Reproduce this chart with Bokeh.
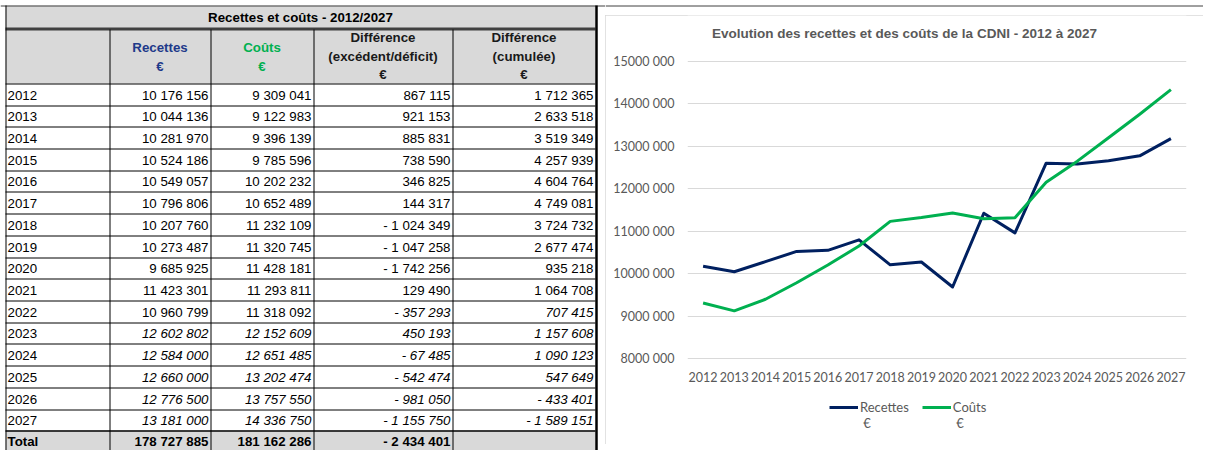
from bokeh.plotting import figure
from bokeh.models import (ColumnDataSource, Range1d, FactorRange, FixedTicker,
                          Legend, LegendItem)
from bokeh.layouts import row, column
from bokeh.core.properties import value
from bokeh.embed import file_html
from bokeh.resources import INLINE

# ---------------- data ----------------
years = [2012, 2013, 2014, 2015, 2016, 2017, 2018, 2019, 2020, 2021,
         2022, 2023, 2024, 2025, 2026, 2027]
recettes = [10176156, 10044136, 10281970, 10524186, 10549057, 10796806,
            10207760, 10273487, 9685925, 11423301, 10960799, 12602802,
            12584000, 12660000, 12776500, 13181000]
couts = [9309041, 9122983, 9396139, 9785596, 10202232, 10652489,
         11232109, 11320745, 11428181, 11293811, 11318092, 12152609,
         12651485, 13202474, 13757550, 14336750]
difference = [867115, 921153, 885831, 738590, 346825, 144317,
              -1024349, -1047258, -1742256, 129490, -357293, 450193,
              -67485, -542474, -981050, -1155750]
cumul = [1712365, 2633518, 3519349, 4257939, 4604764, 4749081,
         3724732, 2677474, 935218, 1064708, 707415, 1157608,
         1090123, 547649, -433401, -1589151]
totals = [178727885, 181162286, -2434401]

table_title = "Recettes et coûts - 2012/2027"
chart_title = "Evolution des recettes et des coûts de la CDNI - 2012 à 2027"
series_names = ["Recettes", "Coûts"]
unit = "€"
y_ticks = [8000000, 9000000, 10000000, 11000000, 12000000, 13000000,
           14000000, 15000000]
y_tick_labels = ["8000 000", "9000 000", "10000 000", "11000 000",
                 "12000 000", "13000 000", "14000 000", "15000 000"]

# ---------------- styles ----------------
NAVY = "#002060"
GREEN = "#00B050"
HEAD_BLUE = "#1F3A8A"
GRAYBG = "#D9D9D9"
TXT_GRAY = "#595959"
TOPLINE = "#404040"
TFONT = "Liberation Sans"
CFONT = "Lato"
TSIZE = "13.3px"
CSIZE = "12.5px"


def fr(v):
    s = f"{abs(v):,}".replace(",", " ")
    return ("- " + s) if v < 0 else s


def no_frame_align(fig):
    try:
        fig.frame_align = False
    except Exception:
        pass


# ---------------- table figure ----------------
TW, TH = 605, 450
pt = figure(width=TW, height=TH, x_range=Range1d(0, TW), y_range=Range1d(TH, 0),
            x_axis_type=None, y_axis_type=None, output_backend="svg",
            toolbar_location=None, min_border=0)
pt.outline_line_color = None
pt.title = None
no_frame_align(pt)

col_edges = [5, 109, 210, 313, 452, 595]
title_top, title_bot = 5, 28
head_top, head_bot = 28, 83
row_h = 21.7
n_rows = len(years) + 1
row_tops = [head_bot + int(round(i * row_h)) for i in range(n_rows)]

bg = ColumnDataSource(dict(
    left=[col_edges[0]] * 3, right=[col_edges[-1]] * 3,
    top=[title_top, head_top, row_tops[-1]],
    bottom=[title_bot, head_bot, TH]))
pt.quad(left="left", right="right", top="top", bottom="bottom", source=bg,
        fill_color=GRAYBG, line_color=None)

hx0, hx1, hy, hw, hc = [], [], [], [], []
hx0.append(0); hx1.append(TW); hy.append(title_top + 0.5); hw.append(1); hc.append(TOPLINE)
hx0.append(col_edges[0]); hx1.append(col_edges[-1]); hy.append(title_bot + 0.5); hw.append(3); hc.append("#404040")
for i, t in enumerate(row_tops):
    hx0.append(col_edges[0]); hx1.append(col_edges[-1]); hy.append(t + 0.5)
    hw.append(1.5 if i == n_rows - 1 else 1); hc.append("black")
pt.segment(x0="x0", y0="y", x1="x1", y1="y", line_width="w", line_color="c",
           source=ColumnDataSource(dict(x0=hx0, x1=hx1, y=hy, w=hw, c=hc)))

vx, vy0, vy1, vw = [], [], [], []
vx.append(col_edges[0] + 0.5); vy0.append(title_top); vy1.append(TH); vw.append(1)
for e in col_edges[1:-1]:
    vx.append(e + 0.5); vy0.append(head_top + 1); vy1.append(TH); vw.append(1)
vx.append(col_edges[-1] + 1); vy0.append(title_top); vy1.append(TH); vw.append(2.5)
pt.segment(x0="x", y0="y0", x1="x", y1="y1", line_width="w", line_color="black",
           source=ColumnDataSource(dict(x=vx, y0=vy0, y1=vy1, w=vw)))


def add_text(fig, xs, ys, texts, align, style, color="black", size=TSIZE, font=TFONT):
    if not texts:
        return
    src = ColumnDataSource(dict(x=xs, y=ys, text=texts))
    fig.text("x", "y", "text", source=src, text_align=align, text_baseline="middle",
             text_font_style=style, text_color=color, text_font_size=size,
             text_font=value(font))


add_text(pt, [(col_edges[0] + col_edges[-1]) / 2], [(title_top + title_bot) / 2 + 0.5],
         [table_title], "center", "bold")

c_centers = [(col_edges[i] + col_edges[i + 1]) / 2 for i in range(5)]
add_text(pt, [c_centers[1], c_centers[1]], [head_top + 19, head_top + 38],
         [series_names[0], unit], "center", "bold", color=HEAD_BLUE)
add_text(pt, [c_centers[2], c_centers[2]], [head_top + 19, head_top + 38],
         [series_names[1], unit], "center", "bold", color=GREEN)
add_text(pt, [c_centers[3]] * 3 + [c_centers[4]] * 3,
         [head_top + 9, head_top + 28, head_top + 46] * 2,
         ["Différence", "(excédent/déficit)", unit,
          "Différence", "(cumulée)", unit], "center", "bold", color="#1a1a1a")

groups = {"normal": ([], [], []), "italic": ([], [], []), "bold": ([], [], [])}
yrx, yry, yrt = [], [], []
for i, yr in enumerate(years):
    yc = (row_tops[i] + row_tops[i + 1]) / 2 + 0.5
    yrx.append(col_edges[0] + 2); yry.append(yc); yrt.append(str(yr))
    vals = [recettes[i], couts[i], difference[i], cumul[i]]
    for j, v in enumerate(vals):
        italic = yr >= 2023 or (yr == 2022 and j >= 2)
        g = groups["italic" if italic else "normal"]
        g[0].append(col_edges[j + 2] - 2); g[1].append(yc); g[2].append(fr(v))
add_text(pt, yrx, yry, yrt, "left", "normal")
yc = row_tops[-1] + row_h / 2 + 0.5
add_text(pt, [col_edges[0] + 2], [yc], ["Total"], "left", "bold")
for j, v in enumerate(totals):
    g = groups["bold"]
    g[0].append(col_edges[j + 2] - 2); g[1].append(yc); g[2].append(fr(v))
for style, (xs, ys, ts) in groups.items():
    add_text(pt, xs, ys, ts, "right", style)

# ---------------- strip above the chart (page top rule) ----------------
CW, CH = 598, 429
STRIP = 15
ps = figure(width=CW, height=STRIP, x_range=Range1d(0, CW), y_range=Range1d(STRIP, 0),
            x_axis_type=None, y_axis_type=None, output_backend="svg",
            toolbar_location=None, min_border=0)
ps.outline_line_color = None
ps.title = None
no_frame_align(ps)
ps.segment(x0=[0], y0=[title_top + 0.5], x1=[CW], y1=[title_top + 0.5],
           line_color=TOPLINE, line_width=1)

# ---------------- chart figure ----------------
# The frame covers the whole chart box vertically so that the title, the
# category labels and the legend live inside it; the value scale keeps
# 8M..15M on 297 px starting 46 px under the box top.
year_labels = [str(y) for y in years]
LEFT, RIGHT, BOT = 82, 17, 4
FRAME_W = CW - LEFT - RIGHT
FRAME_H = CH - BOT
VALUE_TOP, VALUE_H = 46, 297
PX = (y_ticks[-1] - y_ticks[0]) / VALUE_H
y_end = y_ticks[-1] + VALUE_TOP * PX
y_start = y_end - FRAME_H * PX
pc = figure(width=CW, height=CH, x_range=FactorRange(factors=year_labels),
            y_range=Range1d(y_start, y_end), output_backend="svg",
            toolbar_location=None, min_border_left=LEFT, min_border_right=RIGHT,
            min_border_top=0, min_border_bottom=BOT)
pc.title = None
pc.styles = {"outline": "1px solid #D9D9D9", "outline-offset": "-1px"}
pc.outline_line_color = None
pc.xgrid.visible = False
pc.xaxis.visible = False
pc.ygrid.grid_line_color = GRAYBG
pc.ygrid.grid_line_width = 1

src = ColumnDataSource(dict(year=year_labels, recettes=recettes, couts=couts))
r1 = pc.line("year", "recettes", source=src, line_color=NAVY, line_width=3,
             line_join="round")
r2 = pc.line("year", "couts", source=src, line_color=GREEN, line_width=3,
             line_join="round")

# category labels, 18 px under the lowest gridline
lab_y = y_ticks[0] - 18 * PX
pc.text(x=year_labels, y=[lab_y] * len(year_labels), text=year_labels,
        text_align="center", text_baseline="middle", text_color=TXT_GRAY,
        text_font=value(CFONT), text_font_size=CSIZE)

# chart title, centred on the chart box, 18 px under its top
cat_w = FRAME_W / len(year_labels)
title_x = (CW / 2 - LEFT) / cat_w
title_y = y_end - 18 * PX
pc.text(x=[title_x], y=[title_y], text=[chart_title], text_align="center",
        text_baseline="middle", text_color=TXT_GRAY, text_font=value(TFONT),
        text_font_size="13.5px", text_font_style="bold")

yax = pc.yaxis[0]
yax.ticker = FixedTicker(ticks=y_ticks)
yax.major_label_overrides = {t: l for t, l in zip(y_ticks, y_tick_labels)}
yax.axis_line_color = None
yax.major_tick_line_color = None
yax.minor_tick_line_color = None
yax.major_tick_out = 0
yax.major_tick_in = 0
yax.major_label_text_font = CFONT
yax.major_label_text_font_size = CSIZE
yax.major_label_text_color = TXT_GRAY
yax.major_label_standoff = 13

legend = Legend(items=[LegendItem(label=value(" \n" + series_names[0] + "\n " + unit), renderers=[r1]),
                       LegendItem(label=value(" \n" + series_names[1] + "\n " + unit), renderers=[r2])],
                orientation="horizontal", location=(142, 9), padding=0, margin=0,
                border_line_color=None, background_fill_alpha=0, glyph_width=29,
                label_standoff=2, spacing=13, label_text_font=CFONT,
                label_text_font_size="13px", label_text_color=TXT_GRAY)
pc.add_layout(legend, "center")

right = column(ps, pc, spacing=0)
layout = row(pt, right, spacing=0)
open("out.html", "w").write(file_html(layout, INLINE, "Recettes et coûts"))
